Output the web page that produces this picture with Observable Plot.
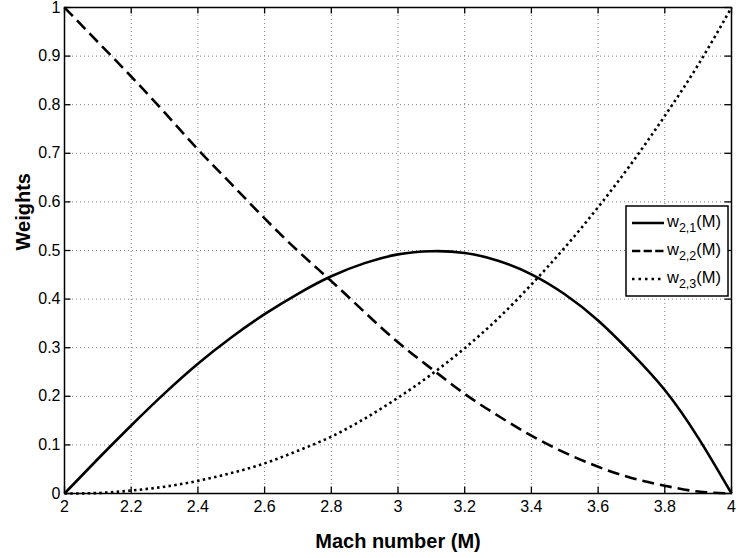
<!DOCTYPE html>
<html>
<head>
<meta charset="utf-8">
<script src="https://cdn.jsdelivr.net/npm/d3@7"></script>
<script src="https://cdn.jsdelivr.net/npm/@observablehq/plot@0.6"></script>
<style>
  html, body { margin: 0; padding: 0; background: #fff; }
  #chart { width: 741px; height: 558px; }
</style>
</head>
<body>
<div id="chart"></div>
<script>
// Mach number samples
const mach = [2.0, 2.1, 2.2, 2.3, 2.4, 2.5, 2.6, 2.7, 2.8, 2.9, 3.0, 3.1, 3.2, 3.3, 3.4, 3.5, 3.6, 3.7, 3.8, 3.9, 4.0];
// Weights
const w21 = [0, 0.071, 0.140, 0.206, 0.267, 0.321, 0.369, 0.411, 0.447, 0.474, 0.492, 0.4985, 0.495, 0.479, 0.451, 0.410, 0.356, 0.289, 0.213, 0.115, 0];
const w22 = [1, 0.929, 0.858, 0.784, 0.708, 0.637, 0.566, 0.499, 0.437, 0.373, 0.311, 0.257, 0.205, 0.160, 0.119, 0.084, 0.055, 0.032, 0.016, 0.004, 0];
const w23 = [0, 0.001, 0.006, 0.014, 0.026, 0.042, 0.062, 0.088, 0.117, 0.154, 0.197, 0.245, 0.299, 0.360, 0.430, 0.506, 0.589, 0.679, 0.777, 0.882, 1];
// Tick values and labels
const xTicks = [2, 2.2, 2.4, 2.6, 2.8, 3, 3.2, 3.4, 3.6, 3.8, 4];
const xTickLabels = ["2", "2.2", "2.4", "2.6", "2.8", "3", "3.2", "3.4", "3.6", "3.8", "4"];
const yTicks = [0, 0.1, 0.2, 0.3, 0.4, 0.5, 0.6, 0.7, 0.8, 0.9, 1];
const yTickLabels = ["0", "0.1", "0.2", "0.3", "0.4", "0.5", "0.6", "0.7", "0.8", "0.9", "1"];
// Labels
const xLabel = "Mach number (M)";
const yLabel = "Weights";
const seriesNames = [["w", "2,1", "(M)"], ["w", "2,2", "(M)"], ["w", "2,3", "(M)"]];

const FONT = "'Liberation Sans', Arial, Helvetica, sans-serif";

const W = 741, H = 558, ML = 64, MR = 10, MT = 7, MB = 65;
const frameW = W - ML - MR, frameH = H - MT - MB, TICK = 6.5;

const rows = mach.map((m, i) => ({m, w21: w21[i], w22: w22[i], w23: w23[i]}));

const lineStyles = [
  {key: "w21", dash: null},
  {key: "w22", dash: "12,6"},
  {key: "w23", dash: "2.5,3.3"}
];

const xFmt = d => xTickLabels[xTicks.indexOf(d)];
const yFmt = d => yTickLabels[yTicks.indexOf(d)];

const chart = Plot.plot({
  width: W,
  height: H,
  marginLeft: ML,
  marginRight: MR,
  marginTop: MT,
  marginBottom: MB,
  style: {fontFamily: FONT, fontSize: "16px", background: "#fff", color: "#000", overflow: "visible"},
  x: {domain: [2, 4]},
  y: {domain: [0, 1]},
  marks: [
    Plot.gridX(xTicks, {stroke: "#808080", strokeOpacity: 1, strokeWidth: 1, strokeDasharray: "1,3"}),
    Plot.gridY(yTicks, {stroke: "#808080", strokeOpacity: 1, strokeWidth: 1, strokeDasharray: "1,3"}),
    ...lineStyles.map(s => Plot.line(rows, {
      x: "m", y: s.key, curve: "natural",
      stroke: "#000", strokeWidth: 2.6,
      strokeDasharray: s.dash || undefined,
      strokeLinecap: "butt"
    })),
    // inward ticks on all four sides
    Plot.tickX(xTicks, {x: d => d, insetTop: frameH - TICK, stroke: "#000", strokeWidth: 1.3}),
    Plot.tickX(xTicks, {x: d => d, insetBottom: frameH - TICK, stroke: "#000", strokeWidth: 1.3}),
    Plot.tickY(yTicks, {y: d => d, insetRight: frameW - TICK, stroke: "#000", strokeWidth: 1.3}),
    Plot.tickY(yTicks, {y: d => d, insetLeft: frameW - TICK, stroke: "#000", strokeWidth: 1.3}),
    Plot.frame({stroke: "#000", strokeWidth: 1.5}),
    Plot.axisX(xTicks, {anchor: "bottom", tickSize: 0, tickPadding: 7, fontSize: 16, tickFormat: xFmt, label: null}),
    Plot.axisY(yTicks, {anchor: "left", tickSize: 0, tickPadding: 4, fontSize: 16, tickFormat: yFmt, label: null}),
    Plot.text([xLabel], {frameAnchor: "bottom", lineAnchor: "bottom", dy: 54, fontSize: 20, fontWeight: "bold", fill: "#000"}),
    Plot.text([yLabel], {frameAnchor: "left", lineAnchor: "bottom", dx: -35, rotate: -90, fontSize: 20, fontWeight: "bold", fill: "#000"})
  ]
});

document.getElementById("chart").appendChild(chart);

// Legend inside the plot (upper right area)
const svg = d3.select(chart.tagName.toLowerCase() === "svg" ? chart : chart.querySelector("svg"));
const lg = svg.append("g").attr("font-family", FONT).attr("text-anchor", "start");
lg.append("rect")
  .attr("x", 626).attr("y", 206).attr("width", 102).attr("height", 90)
  .attr("fill", "#fff").attr("stroke", "#000").attr("stroke-width", 1.5);
const legendDash = [null, "8.3,3.3", "2.5,4"];
seriesNames.forEach((parts, i) => {
  const yy = 223 + i * 28;
  lg.append("line")
    .attr("x1", 632).attr("x2", 664).attr("y1", yy).attr("y2", yy)
    .attr("stroke", "#000").attr("stroke-width", 2.5)
    .attr("stroke-dasharray", legendDash[i]);
  const t = lg.append("text").attr("x", 667).attr("y", yy + 3.5).attr("font-size", 16.5).attr("fill", "#000").attr("text-anchor", "start");
  t.append("tspan").text(parts[0]);
  t.append("tspan").attr("dy", 5).attr("font-size", 12.5).text(parts[1]);
  t.append("tspan").attr("dy", -5).attr("font-size", 16.5).text(parts[2]);
});
</script>
</body>
</html>
